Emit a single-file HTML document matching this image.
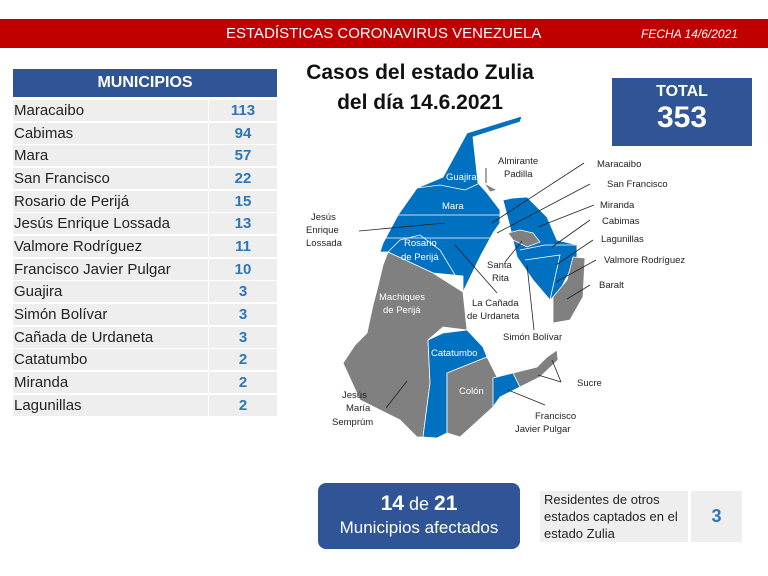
<!DOCTYPE html>
<html><head><meta charset="utf-8"><style>
body{margin:0;width:768px;height:576px;background:#fff;position:relative;overflow:hidden;font-family:"Liberation Sans",sans-serif}
.a{position:absolute}
.bar{left:0;top:19px;width:768px;height:29px;background:#c00000;color:#fff}
.row{position:absolute;left:13px;width:264px;height:21px}
.row .n{position:absolute;left:0;top:0;width:194px;height:21px;background:#eee;font-size:15px;line-height:21px;color:#222;padding-left:1px}
.row .v{position:absolute;left:196px;top:0;width:68px;height:21px;background:#eee;font-size:15px;line-height:21px;color:#2e75b6;font-weight:bold;text-align:center}
svg text{font-family:"Liberation Sans",sans-serif;font-size:9.5px}
</style></head><body>
<div class="a bar"><span class="a" style="left:226px;top:6px;font-size:15px">ESTADÍSTICAS CORONAVIRUS VENEZUELA</span><span class="a" style="left:641px;top:8px;font-size:12px;font-style:italic">FECHA 14/6/2021</span></div>
<div class="a" style="left:13px;top:69px;width:264px;height:28px;background:#2f5597;color:#fff;font-weight:bold;font-size:16px;text-align:center;line-height:28px">MUNICIPIOS</div>
<div class="row" style="top:100px"><div class="n">Maracaibo</div><div class="v">113</div></div>
<div class="row" style="top:123px"><div class="n">Cabimas</div><div class="v">94</div></div>
<div class="row" style="top:145px"><div class="n">Mara</div><div class="v">57</div></div>
<div class="row" style="top:168px"><div class="n">San Francisco</div><div class="v">22</div></div>
<div class="row" style="top:191px"><div class="n">Rosario de Perijá</div><div class="v">15</div></div>
<div class="row" style="top:213px"><div class="n">Jesús Enrique Lossada</div><div class="v">13</div></div>
<div class="row" style="top:236px"><div class="n">Valmore Rodríguez</div><div class="v">11</div></div>
<div class="row" style="top:259px"><div class="n">Francisco Javier Pulgar</div><div class="v">10</div></div>
<div class="row" style="top:281px"><div class="n">Guajira</div><div class="v">3</div></div>
<div class="row" style="top:304px"><div class="n">Simón Bolívar</div><div class="v">3</div></div>
<div class="row" style="top:327px"><div class="n">Cañada de Urdaneta</div><div class="v">3</div></div>
<div class="row" style="top:349px"><div class="n">Catatumbo</div><div class="v">2</div></div>
<div class="row" style="top:372px"><div class="n">Miranda</div><div class="v">2</div></div>
<div class="row" style="top:395px"><div class="n">Lagunillas</div><div class="v">2</div></div>
<div class="a" style="left:290px;top:58px;width:260px;text-align:center;font-weight:bold;font-size:21px;line-height:30px;color:#111">Casos del estado Zulia<br>del día 14.6.2021</div>
<div class="a" style="left:612px;top:78px;width:140px;height:68px;background:#2f5597;color:#fff;text-align:center;font-weight:bold"><div style="font-size:16px;margin-top:5px">TOTAL</div><div style="font-size:30px;line-height:34px">353</div></div>
<svg class="a" style="left:0;top:0" width="768" height="576">
<g stroke="#fff" stroke-width="0.8">
<polygon fill="#0070c0" points="522,116 467,133 443,177 417,188 398,215 383,243 380,252 388,252 433,273 463,276 463,292 480,257 493,233 500,223 500,210 487,193 478,183 473,137 520,122"/>
<polygon fill="#0070c0" points="513,198 527,197 547,217 557,240 577,245 577,257 560,290 550,300 533,280 517,257 513,240 510,227 503,200"/>
<polygon fill="#808080" points="508,233 520,230 533,233 540,242 527,247 513,240"/>
<polygon fill="#808080" points="573,257 585,258 583,297 570,320 553,323 553,297 567,280"/>
<polygon fill="#808080" points="388,252 433,273 463,292 467,330 443,327 428,340 430,383 423,437 417,437 400,420 380,410 360,400 343,363 355,345 367,333 373,305 377,290 383,265"/>
<polygon fill="#0070c0" points="428,340 443,333 467,330 483,347 487,357 447,373 447,433 437,438 423,437 430,383"/>
<polygon fill="#808080" points="447,373 487,357 497,377 493,407 460,437 447,433"/>
<polygon fill="#0070c0" points="493,378 513,373 520,387 500,397 493,407"/>
<polygon fill="#808080" points="513,373 537,367 547,357 557,350 558,360 540,377 520,387"/>
<polygon fill="#808080" points="484,183 497,190 490,192"/>
</g>
<g fill="none" stroke="#fff" stroke-width="0.8">
<polyline points="417,188 440,185 465,190 480,183"/><polyline points="398,215 500,215"/><polyline points="383,238 500,238"/>
<polyline points="388,252 400,240 420,235 440,250 455,275"/><polyline points="500,215 500,238"/>
<polyline points="520,250 545,245 577,245"/><polyline points="525,260 560,255 550,300"/>
</g>
<g fill="#fff"><text x="446" y="180">Guajira</text><text x="442" y="209">Mara</text><text x="404" y="246">Rosario</text><text x="401" y="260">de Perijá</text><text x="379" y="300">Machiques</text><text x="383" y="313">de Perijá</text><text x="431" y="356">Catatumbo</text><text x="459" y="394">Colón</text></g>
<g fill="#222"><text x="498" y="164">Almirante</text><text x="504" y="177">Padilla</text><text x="597" y="167">Maracaibo</text><text x="607" y="187">San Francisco</text><text x="600" y="208">Miranda</text><text x="602" y="224">Cabimas</text><text x="601" y="242">Lagunillas</text><text x="604" y="263">Valmore Rodríguez</text><text x="599" y="288">Baralt</text>
<text x="311" y="220">Jesús</text><text x="306" y="233">Enrique</text><text x="306" y="246">Lossada</text><text x="487" y="268">Santa</text><text x="492" y="281">Rita</text><text x="472" y="306">La Cañada</text><text x="467" y="319">de Urdaneta</text><text x="503" y="340">Simón Bolívar</text><text x="577" y="386">Sucre</text><text x="535" y="419">Francisco</text><text x="515" y="432">Javier Pulgar</text><text x="342" y="398">Jesús</text><text x="346" y="411">María</text><text x="332" y="425">Semprúm</text></g>
<g stroke="#222" stroke-width="0.8"><line x1="359" y1="231" x2="445" y2="223"/><line x1="486" y1="168" x2="486" y2="183"/><line x1="584" y1="163" x2="492" y2="223"/><line x1="590" y1="184" x2="497" y2="233"/><line x1="594" y1="205" x2="538" y2="227"/><line x1="590" y1="220" x2="552" y2="247"/><line x1="593" y1="240" x2="556" y2="265"/><line x1="596" y1="260" x2="556" y2="282"/><line x1="590" y1="285" x2="567" y2="299"/><line x1="505" y1="262" x2="522" y2="241"/><line x1="497" y1="293" x2="455" y2="245"/><line x1="534" y1="330" x2="527" y2="265"/><line x1="561" y1="382" x2="552" y2="360"/><line x1="561" y1="382" x2="538" y2="375"/><line x1="545" y1="405" x2="508" y2="390"/><line x1="386" y1="408" x2="407" y2="381"/></g>
</svg>
<div class="a" style="left:318px;top:483px;width:202px;height:66px;background:#2f5597;border-radius:8px;color:#fff;text-align:center"><div style="font-size:18px;margin-top:9px"><b style="font-size:21px">14</b> de <b style="font-size:21px">21</b></div><div style="font-size:17px;margin-top:2px">Municipios afectados</div></div>
<div class="a" style="left:540px;top:491px;width:148px;height:51px;background:#eee;font-size:13px;line-height:17px;color:#222;padding-left:4px;box-sizing:border-box">Residentes de otros estados captados en el estado Zulia</div>
<div class="a" style="left:691px;top:491px;width:51px;height:51px;background:#eee;color:#2e75b6;font-weight:bold;font-size:18px;text-align:center;line-height:51px">3</div>
</body></html>
